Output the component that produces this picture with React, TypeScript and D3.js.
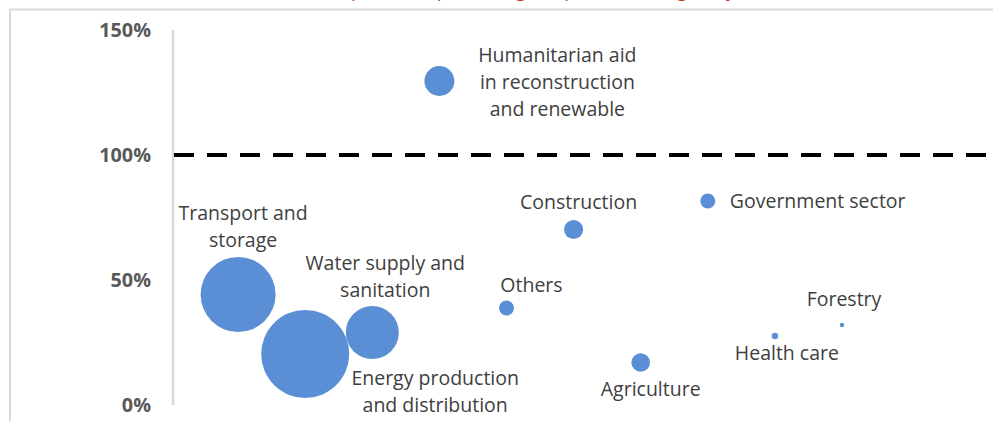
import React from "react";
import * as d3 from "d3";

const sectors = [
  "Transport and storage",
  "Energy production and distribution",
  "Water supply and sanitation",
  "Humanitarian aid in reconstruction and renewable",
  "Others",
  "Construction",
  "Agriculture",
  "Government sector",
  "Health care",
  "Forestry",
];
const xValues = [1, 2, 3, 4, 5, 6, 7, 8, 9, 10];
const yValues = [44.2, 20.4, 29, 129.6, 38.8, 70.2, 17, 81.6, 27.6, 32];
const sizeValues = [72.6, 100, 36.3, 11.6, 2.9, 4.7, 4.5, 2.9, 0.53, 0.25];
const labelLines = [
  ["Transport and", "storage"],
  ["Energy production", "and distribution"],
  ["Water supply and", "sanitation"],
  ["Humanitarian aid", "in reconstruction", "and renewable"],
  ["Others"],
  ["Construction"],
  ["Agriculture"],
  ["Government sector"],
  ["Health care"],
  ["Forestry"],
];
const yTicks = [0, 50, 100, 150];
const threshold = 100;
const titleText = "(Execution rate, spent as a percentage of planned budget, by sector)";

// label placement: [dx, dy of first baseline, anchor]
const labelPos: [number, number, string][] = [
  [5, -75, "middle"],
  [130, 31, "middle"],
  [13, -63, "middle"],
  [118, -19, "middle"],
  [25, -16, "middle"],
  [5, -21, "middle"],
  [10, 33, "middle"],
  [22, 7, "start"],
  [12, 24, "middle"],
  [2, -19, "middle"],
];

export default function App() {
  const W = 993;
  const H = 421;
  const x = d3.scaleLinear().domain([0, 10]).range([171, 842]);
  const y = d3.scaleLinear().domain([0, 150]).range([405, 30]);
  const r = d3.scaleSqrt().domain([0, 100]).range([0, 44]);
  const font = "'Open Sans', 'Noto Sans', sans-serif";
  const lineH = 27;

  return (
    <svg
      width={W}
      height={H}
      style={{ position: "absolute", left: 0, top: 0, background: "#fff" }}
    >
      <rect width={W} height={H} fill="#fff" />
      <text
        x={500}
        y={-3}
        textAnchor="middle"
        fontFamily={font}
        fontSize={19}
        fill="#c0392b"
      >
        {titleText}
      </text>
      <path d={`M10,${H} V9.5 H${W}`} fill="none" stroke="#d9d9d9" strokeWidth={2} />
      <line x1={x(0) + 2} x2={x(0) + 2} y1={y(150)} y2={y(0)} stroke="#d9d9d9" strokeWidth={2.5} />
      {yTicks.map((t) => (
        <text
          key={t}
          x={151}
          y={y(t)}
          dy="0.36em"
          textAnchor="end"
          fontFamily={font}
          fontWeight={700}
          fontSize={19.8}
          fill="#595959"
        >
          {t}%
        </text>
      ))}
      <line
        x1={x(0) + 3}
        x2={W}
        y1={y(threshold)}
        y2={y(threshold)}
        stroke="#000"
        strokeWidth={4}
        strokeDasharray="20 13"
      />
      {sectors.map((s, i) => (
        <circle key={s} cx={x(xValues[i])} cy={y(yValues[i])} r={r(sizeValues[i])} fill="#5b8fd5" />
      ))}
      {sectors.map((s, i) => {
        const [dx, dy, anchor] = labelPos[i];
        const cx = x(xValues[i]) + dx;
        const cy = y(yValues[i]) + dy;
        return (
          <text
            key={s + "l"}
            textAnchor={anchor as any}
            fontFamily={font}
            fontSize={19.5}
            fill="#404040"
          >
            {labelLines[i].map((ln, j) => (
              <tspan key={j} x={cx} y={cy + j * lineH}>
                {ln}
              </tspan>
            ))}
          </text>
        );
      })}
    </svg>
  );
}
